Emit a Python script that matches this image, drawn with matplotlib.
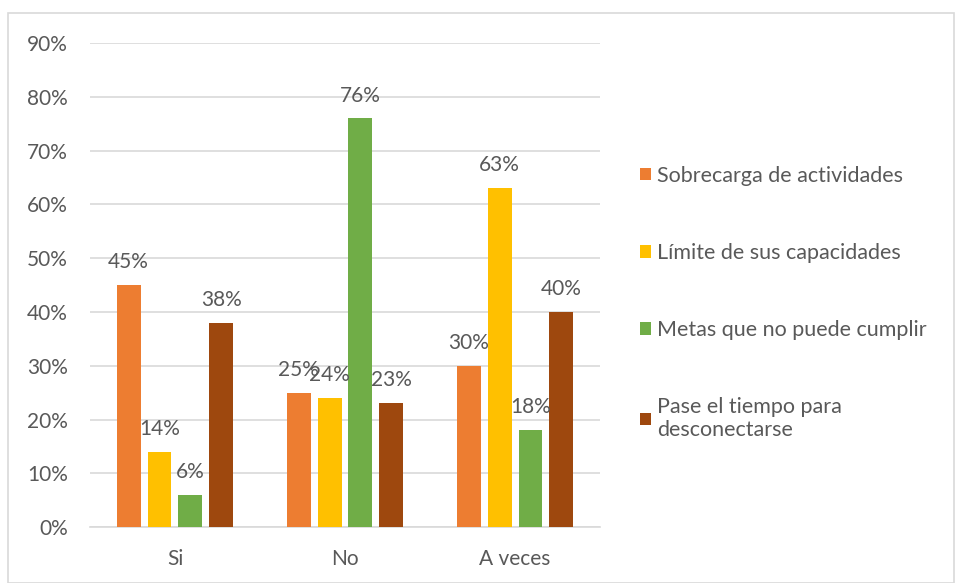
import numpy as np
import matplotlib.pyplot as plt
from matplotlib.patches import Rectangle

# datos
categorias = ["Si", "No", "A veces"]
series = ["Sobrecarga de actividades", "Límite de sus capacidades",
          "Metas que no puede cumplir", "Pase el tiempo para\ndesconectarse"]
sobrecarga = [45, 25, 30]
limite = [14, 24, 63]
metas = [6, 76, 18]
pase_tiempo = [38, 23, 40]
yticks = [0, 10, 20, 30, 40, 50, 60, 70, 80, 90]

colores = ["#ED7D31", "#FFC000", "#70AD47", "#9E480E"]
gris = "#595959"
fs = 15

plt.rcParams['font.family'] = ['Lato', 'DejaVu Sans']

fig = plt.figure(figsize=(9.57, 5.83), dpi=100)
fig.patches.append(Rectangle((8 / 957, 0.0), 946 / 957, 1 - 13 / 583,
                             transform=fig.transFigure, fill=False,
                             edgecolor="#D9D9D9", linewidth=1.2))

ax = fig.add_axes([0.094, 0.096, 0.533, 0.830])

x = np.arange(len(categorias))
paso = 0.182
ancho = 0.141
valores = [sobrecarga, limite, metas, pase_tiempo]
for i, (vals, col, nom) in enumerate(zip(valores, colores, series)):
    pos = x + (i - 1.5) * paso
    ax.bar(pos, vals, width=ancho, color=col, label=nom, zorder=3)
    for p, v in zip(pos, vals):
        ax.text(p, v + 2.4, f"{v}%", ha="center", va="bottom",
                fontsize=fs, color=gris, zorder=4)

ax.set_xlim(-0.5, 2.5)
ax.set_ylim(0, 90)
ax.set_yticks(yticks)
ax.set_yticklabels([f"{t}%" for t in yticks])
ax.set_xticks(x)
ax.set_xticklabels(categorias)
ax.tick_params(axis="both", length=0, labelsize=fs, labelcolor=gris)
ax.tick_params(axis="y", pad=16)
ax.tick_params(axis="x", pad=16)
ax.grid(axis="y", color="#D9D9D9", linewidth=1.2, zorder=0)
for s in ["top", "right", "left"]:
    ax.spines[s].set_visible(False)
ax.spines["bottom"].set_color("#D9D9D9")
ax.spines["bottom"].set_linewidth(1.2)

fig.legend(loc="upper left", bbox_to_anchor=(640 / 957, 1 - 166 / 583),
           frameon=False, fontsize=15.5, labelcolor=gris,
           handlelength=0.5, handleheight=0.5, handletextpad=0.3,
           labelspacing=2.65, borderaxespad=0, borderpad=0)

fig.savefig("out.png", dpi=100)
